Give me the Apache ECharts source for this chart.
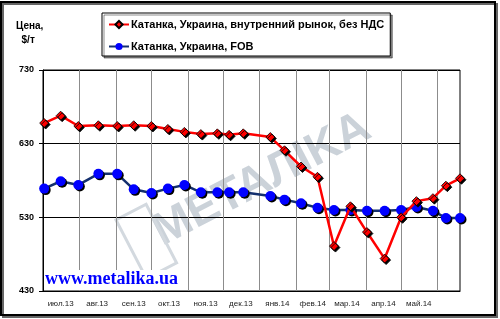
<!DOCTYPE html>
<html>
<head>
<meta charset="utf-8">
<script src="https://cdn.jsdelivr.net/npm/echarts@6/dist/echarts.min.js"></script>
<style>
html,body{margin:0;padding:0;background:#fff;}
#c{width:500px;height:319px;}
</style>
</head>
<body>
<div id="c"></div>
<script>
// ---- data ----
const dates = [
  '2013-07-02','2013-07-16','2013-07-31','2013-08-17','2013-09-02','2013-09-16',
  '2013-10-01','2013-10-15','2013-10-29','2013-11-12','2013-11-26','2013-12-06',
  '2013-12-18','2014-01-10','2014-01-22','2014-02-05','2014-02-19','2014-03-05',
  '2014-03-19','2014-04-02','2014-04-17','2014-05-01','2014-05-14','2014-05-28',
  '2014-06-08','2014-06-20'
];
const domesticValues = [
  658, 668, 654, 655, 654, 655, 654, 650, 646, 643, 644, 642, 644,
  639, 621, 599, 585, 491, 545, 510, 474, 530, 552, 556, 573, 583
];
const fobValues = [
  569, 579, 574, 589, 589, 568, 563, 569, 574, 564, 564, 564, 564,
  559, 554, 549, 543, 540, 540, 539, 539, 540, 544, 539, 529, 529
];
const seriesNames = ['Катанка, Украина, внутренний рынок, без НДС', 'Катанка, Украина, FOB'];
const monthStarts = ['2013-08-01','2013-09-01','2013-10-01','2013-11-01','2013-12-01',
  '2014-01-01','2014-02-01','2014-03-01','2014-04-01','2014-05-01','2014-06-01'];
const monthLabelDates = ['2013-07-16','2013-08-16','2013-09-16','2013-10-16','2013-11-16',
  '2013-12-16','2014-01-16','2014-02-15','2014-03-16','2014-04-16','2014-05-16'];
const monthLabels = ['июл.13','авг.13','сен.13','окт.13','ноя.13','дек.13',
  'янв.14','фев.14','мар.14','апр.14','май.14'];
const axisStart = '2013-07-01';
const axisEnd = '2014-06-20';

// day offset from axis start
const DAY = 86400000;
const day = d => Math.round((Date.parse(d + 'T00:00:00Z') - Date.parse(axisStart + 'T00:00:00Z')) / DAY);
const labelMap = {};
monthLabelDates.forEach((d, i) => { labelMap[day(d)] = monthLabels[i]; });

const chart = echarts.init(document.getElementById('c'), null, {renderer: 'canvas'});
const FONT = '"Liberation Sans", Arial, sans-serif';

chart.setOption({
  animation: false,
  backgroundColor: '#fff',
  textStyle: {fontFamily: FONT},
  grid: {left: 43, top: 70, width: 417, height: 221, show: true,
         borderColor: '#000', borderWidth: 1, backgroundColor: 'transparent'},
  legend: {
    left: 102, top: 13, orient: 'vertical',
    padding: [6, 6, 4, 6], itemGap: 11, itemWidth: 20, itemHeight: 9,
    backgroundColor: '#fff', borderColor: '#000', borderWidth: 1,
    shadowColor: 'rgba(0,0,0,0.45)', shadowOffsetX: 2, shadowOffsetY: 2, shadowBlur: 0,
    textStyle: {fontFamily: FONT, fontWeight: 'bold', fontSize: 11, color: '#000', padding: [0,0,0,-3]},
    data: seriesNames
  },
  xAxis: {
    type: 'value',
    min: day(axisStart), max: day(axisEnd),
    axisLine: {show: true, onZero: false, lineStyle: {color: '#000', width: 1}},
    axisTick: {show: false, customValues: monthStarts.map(day)},
    splitLine: {show: true, lineStyle: {color: '#8c8c8c', width: 1}},
    axisLabel: {
      customValues: monthLabelDates.map(day),
      formatter: v => labelMap[v] || '',
      fontSize: 8, color: '#222', fontFamily: FONT, margin: 9, hideOverlap: false
    }
  },
  yAxis: {
    type: 'value', min: 430, max: 730, interval: 100,
    axisLine: {show: true, lineStyle: {color: '#000', width: 1}},
    axisTick: {show: true, length: 4, lineStyle: {color: '#000'}},
    splitLine: {show: true, lineStyle: {color: '#000', width: 1}},
    axisLabel: {fontSize: 9, fontWeight: 'bold', color: '#000', margin: 9, fontFamily: FONT}
  },
  graphic: [
    {type: 'rect', silent: true, z: 100,
     shape: {x: 1, y: 2, width: 494, height: 313},
     style: {fill: 'none', stroke: '#000', lineWidth: 2,
             shadowColor: 'rgba(0,0,0,0.6)', shadowOffsetX: 2, shadowOffsetY: 2, shadowBlur: 0}},
    {type: 'text', left: 16, top: 19, z: 10,
     style: {text: 'Цена,\n  $/т', font: 'bold 10px ' + FONT, fill: '#000', lineHeight: 14}},
    {type: 'group', x: 262, y: 180, rotation: 0.48, z: -1, silent: true, children: [
      {type: 'text', z: -1, style: {text: 'METAЛIKA', font: 'bold 46px ' + FONT,
        fill: '#cbd2d9', textAlign: 'center', textVerticalAlign: 'middle'}},
      {type: 'rect', z: -1, shape: {x: -148, y: -32, width: 34, height: 66},
        style: {fill: 'none', stroke: '#d3d9df', lineWidth: 3}}
    ]},
    {type: 'text', left: 45, top: 270, z: 10,
     style: {text: 'www.metalika.ua', font: 'bold 18px "Liberation Serif", "Times New Roman", serif',
             fill: '#0000ff', backgroundColor: '#fff', padding: [0, 2, 2, 0]}}
  ],
  series: [
    {
      name: seriesNames[0], type: 'line',
      data: dates.map((d, i) => [day(d), domesticValues[i]]),
      symbol: 'diamond', symbolSize: 9, showSymbol: true,
      lineStyle: {color: '#ff0000', width: 2.5},
      itemStyle: {color: '#ff0000', borderColor: '#000', borderWidth: 0.8,
        shadowColor: '#000', shadowOffsetX: 1.5, shadowOffsetY: 1.5, shadowBlur: 0},
      z: 3
    },
    {
      name: seriesNames[1], type: 'line',
      data: dates.map((d, i) => [day(d), fobValues[i]]),
      symbol: 'circle', symbolSize: 10, showSymbol: true,
      lineStyle: {color: '#14306e', width: 2.5},
      itemStyle: {color: '#0000ff', borderWidth: 0,
        shadowColor: '#000', shadowOffsetX: 1.5, shadowOffsetY: 1.5, shadowBlur: 0},
      z: 2
    }
  ]
});
</script>
</body>
</html>
